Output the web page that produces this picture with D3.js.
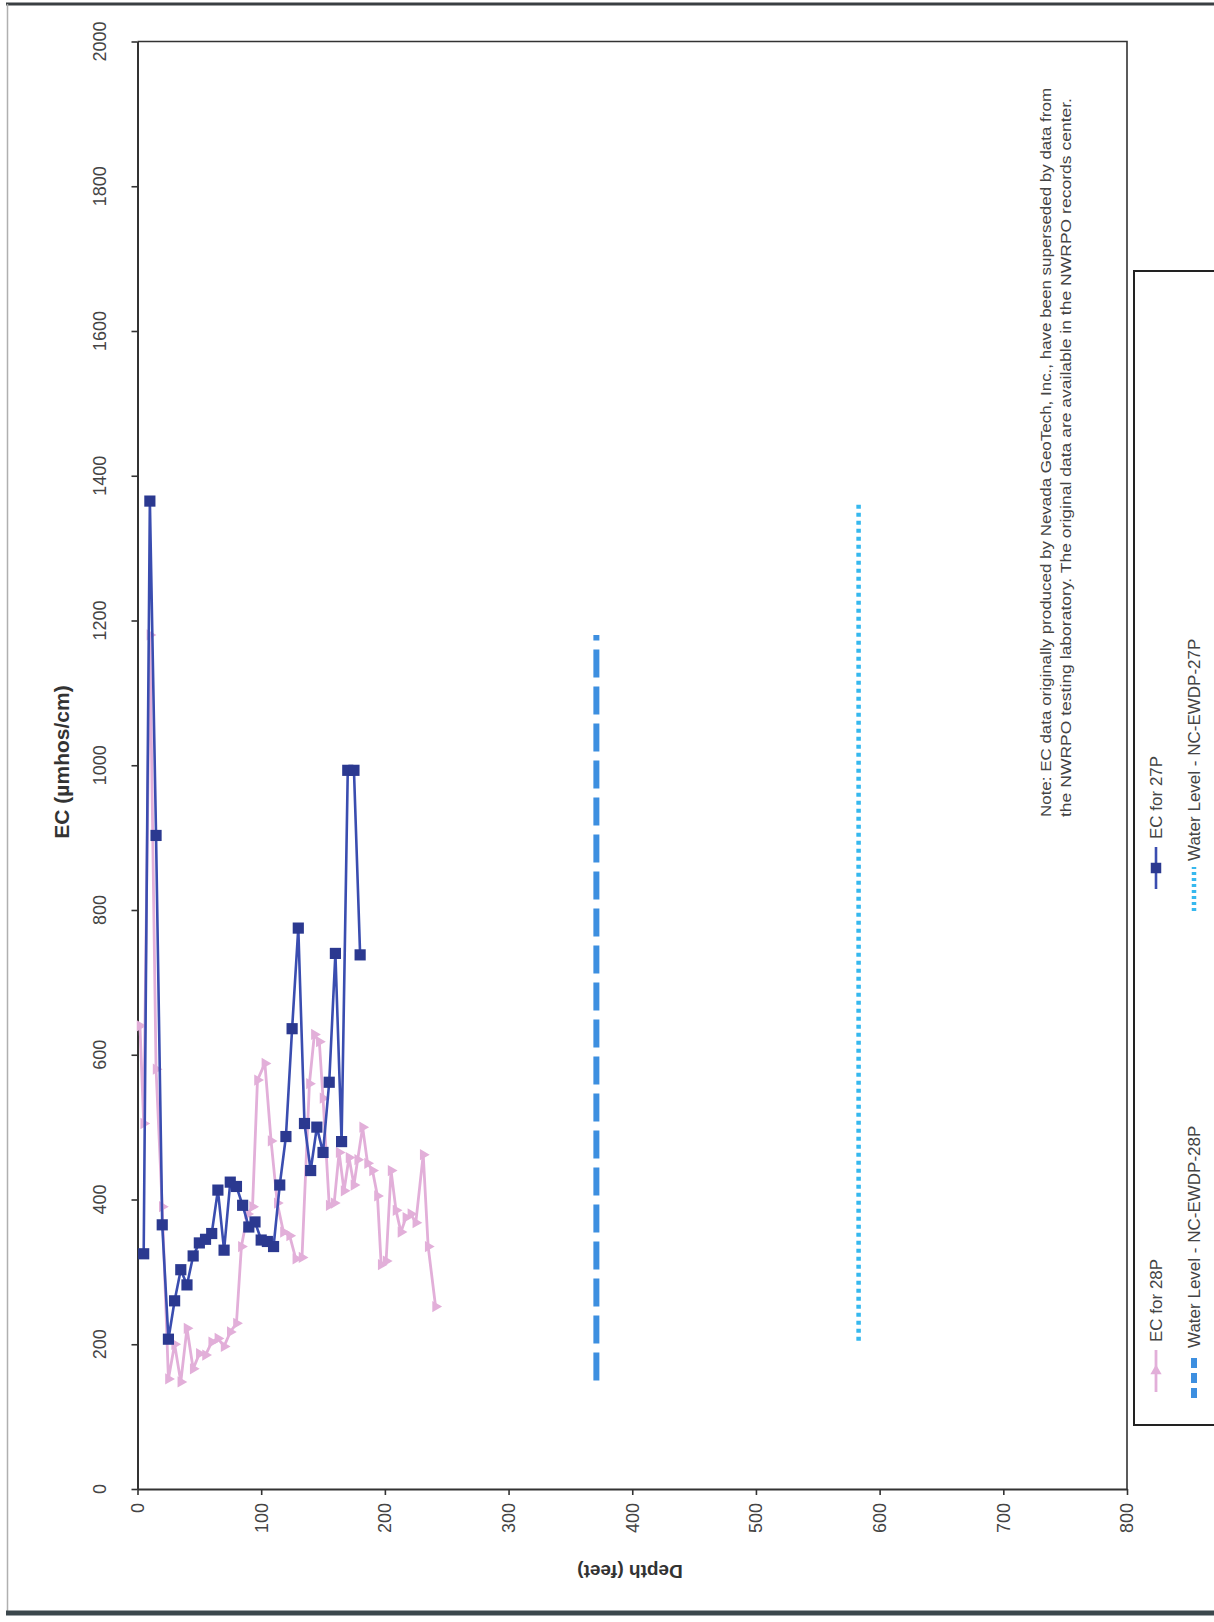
<!DOCTYPE html>
<html><head><meta charset="utf-8">
<script src="https://cdn.jsdelivr.net/npm/d3@7"></script>
<style>
body{margin:0;background:#fff}
svg{display:block}
text{font-family:"Liberation Sans",Arial,sans-serif}
</style>
</head><body>
<svg id="c" width="1214" height="1622"></svg>
<script>
// ---------- data ----------
const depth27 = [5,10,15,20,25,30,35,40,45,50,55,60,65,70,75,80,85,90,95,100,105,110,115,120,125,130,135,140,145,150,155,160,165,170,175,180];
const ec27    = [325,1365,903,365,207,260,303,282,322,340,345,353,413,330,424,418,392,362,369,344,342,335,420,487,636,775,505,440,500,465,562,740,480,993,993,738];

const depth28 = [2,5,10,15,20,25,30,35,40,45,50,55,60,65,70,75,80,84,89,93,97,103,108,113,118,123,128,133,139,143,147,150,155,159,163,167,171,175,178,182,186,190,194,197,201,205,209,213,217,221,225,231,235,241];
const ec28    = [640,505,1180,580,390,152,200,148,222,166,187,185,203,208,197,217,229,335,380,390,565,588,481,395,355,350,318,320,560,628,618,540,392,395,465,412,458,420,455,500,450,440,405,310,315,440,385,355,375,380,368,462,335,252];

const wl28Depth = [371,371];
const wl28EC    = [150,1180];
const wl27Depth = [583,583];
const wl27EC    = [205,1362];

const depthTicks = [0,100,200,300,400,500,600,700,800];
const ecTicks    = [0,200,400,600,800,1000,1200,1400,1600,1800,2000];

const seriesNames = ["EC for 28P","Water Level - NC-EWDP-28P","EC for 27P","Water Level - NC-EWDP-27P"];
const xTitle = "Depth (feet)";
const yTitle = "EC (\u00b5mhos/cm)";
const noteLines = [
  "Note: EC data originally produced by Nevada GeoTech, Inc., have been superseded by data from",
  "the NWRPO testing laboratory. The original data are available in the NWRPO records center."
];

// ---------- styles ----------
const C_PINK = "#e2afd9", C_NAVY_LINE = "#3a4db0", C_NAVY_MK = "#2b3990";
const C_WL28 = "#3d8fe0", C_WL27 = "#36b8ee";

const svg = d3.select("#c");
const x = d3.scaleLinear().domain([0,800]).range([137.5,1127]);
const y = d3.scaleLinear().domain([0,2000]).range([1489,41.5]);

// outer frame
svg.append("line").attr("x1",6).attr("x2",1214).attr("y1",4).attr("y2",4).attr("stroke","#3a3f42").attr("stroke-width",3);
svg.append("line").attr("x1",7.5).attr("x2",7.5).attr("y1",4).attr("y2",1614).attr("stroke","#b0b0b0").attr("stroke-width",1.5);
svg.append("line").attr("x1",6).attr("x2",1214).attr("y1",1613).attr("y2",1613).attr("stroke","#3b474c").attr("stroke-width",5);

// plot frame (top/right)
svg.append("path").attr("d",`M${x(0)},${y(2000)}H${x(800)}V${y(0)}`).attr("fill","none").attr("stroke","#333").attr("stroke-width",1.6);

// axes
const gx = svg.append("g").attr("transform",`translate(0,${y(0)})`)
  .call(d3.axisBottom(x).tickValues(depthTicks).tickSize(6).tickSizeOuter(0).tickFormat(""));
const gy = svg.append("g").attr("transform",`translate(${x(0)},0)`)
  .call(d3.axisLeft(y).tickValues(ecTicks).tickSize(6).tickSizeOuter(0).tickFormat(""));
[gx,gy].forEach(g=>{g.select(".domain").attr("stroke","#333").attr("stroke-width",2);g.selectAll(".tick line").attr("stroke","#333").attr("stroke-width",1.6);});

// tick labels (rotated)
svg.append("g").selectAll("text").data(depthTicks).join("text")
  .attr("transform",d=>`translate(${x(d)},1503) rotate(-90)`)
  .attr("text-anchor","end").attr("dy","0.35em")
  .attr("font-size",18).attr("fill","#444").text(d=>d);
svg.append("g").selectAll("text").data(ecTicks).join("text")
  .attr("transform",d=>`translate(100,${y(d)}) rotate(-90)`)
  .attr("text-anchor","middle").attr("dy","0.35em")
  .attr("font-size",18).attr("fill","#444").text(d=>d);

// axis titles
svg.append("text").attr("transform","translate(62,762) rotate(-90)")
  .attr("text-anchor","middle").attr("dy","0.35em").attr("font-size",21).attr("font-weight","bold").attr("fill","#333").text(yTitle);
svg.append("text").attr("transform","translate(630,1572) rotate(180)")
  .attr("text-anchor","middle").attr("dy","0.35em").attr("font-size",19).attr("font-weight","bold").attr("fill","#333").text(xTitle);

// water level lines
const lineGen = d3.line().x(d=>x(d[0])).y(d=>y(d[1]));
svg.append("path").datum(d3.zip(wl28Depth,wl28EC)).attr("d",lineGen)
  .attr("stroke",C_WL28).attr("stroke-width",6).attr("stroke-dasharray","28,9").attr("fill","none");
svg.append("path").datum(d3.zip(wl27Depth,wl27EC)).attr("d",lineGen)
  .attr("stroke",C_WL27).attr("stroke-width",4.5).attr("stroke-dasharray","4,4").attr("fill","none");

// EC for 28P
const s28 = d3.zip(depth28,ec28);
svg.append("path").datum(s28).attr("d",lineGen).attr("stroke",C_PINK).attr("stroke-width",2.8).attr("fill","none").attr("stroke-linejoin","round");
svg.append("g").selectAll("path").data(s28).join("path")
  .attr("transform",d=>`translate(${x(d[0])},${y(d[1])}) rotate(90)`)
  .attr("d",d3.symbol(d3.symbolTriangle).size(55)).attr("fill",C_PINK);

// EC for 27P
const s27 = d3.zip(depth27,ec27);
svg.append("path").datum(s27).attr("d",lineGen).attr("stroke",C_NAVY_LINE).attr("stroke-width",2.6).attr("fill","none").attr("stroke-linejoin","round");
svg.append("g").selectAll("path").data(s27).join("path")
  .attr("transform",d=>`translate(${x(d[0])},${y(d[1])})`)
  .attr("d",d3.symbol(d3.symbolSquare).size(125)).attr("fill",C_NAVY_MK);

// note
svg.append("g").selectAll("text").data(noteLines).join("text")
  .attr("transform",(d,i)=>`translate(${1046+i*20},817) rotate(-90)`)
  .attr("text-anchor","start").attr("dy","0.35em").attr("font-size",15.5).attr("fill","#444")
  .attr("textLength",(d,i)=>i===0?729:719).attr("lengthAdjust","spacingAndGlyphs").text(d=>d);

// legend
svg.append("rect").attr("x",1134).attr("y",271).attr("width",200).attr("height",1154)
  .attr("fill","#fff").attr("stroke","#222").attr("stroke-width",2);
const legendItems = [
  {name:seriesNames[0], cx:1156, cy:1392, kind:"pink"},
  {name:seriesNames[1], cx:1194, cy:1398, kind:"wl28"},
  {name:seriesNames[2], cx:1156, cy:889, kind:"navy"},
  {name:seriesNames[3], cx:1194, cy:911, kind:"wl27"}
];
legendItems.forEach(it=>{
  const g = svg.append("g").attr("transform",`translate(${it.cx},${it.cy}) rotate(-90)`);
  if(it.kind==="pink"){
    g.append("line").attr("x1",0).attr("x2",42).attr("stroke",C_PINK).attr("stroke-width",2.8);
    g.append("path").attr("transform","translate(21,0) rotate(90)").attr("d",d3.symbol(d3.symbolTriangle).size(55)).attr("fill",C_PINK);
  } else if(it.kind==="navy"){
    g.append("line").attr("x1",0).attr("x2",42).attr("stroke",C_NAVY_LINE).attr("stroke-width",2.6);
    g.append("path").attr("transform","translate(21,0)").attr("d",d3.symbol(d3.symbolSquare).size(110)).attr("fill",C_NAVY_MK);
  } else if(it.kind==="wl28"){
    g.append("line").attr("x1",0).attr("x2",44).attr("stroke",C_WL28).attr("stroke-width",6).attr("stroke-dasharray","10,5");
  } else {
    g.append("line").attr("x1",0).attr("x2",44).attr("stroke",C_WL27).attr("stroke-width",4.5).attr("stroke-dasharray","3,3");
  }
  g.append("text").attr("x",50).attr("dy","0.35em").attr("font-size",17).attr("fill","#444").text(it.name);
});
</script>
</body></html>
